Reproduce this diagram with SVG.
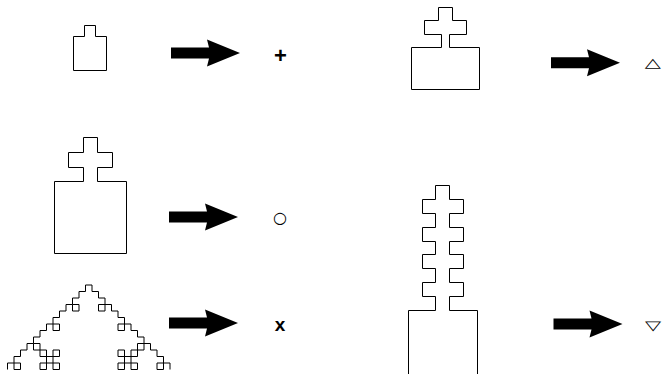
<svg xmlns="http://www.w3.org/2000/svg" xmlns:xlink="http://www.w3.org/1999/xlink" width="663" height="377" viewBox="0 0 663 377">
  <style>
    .shape { fill: none; stroke: #000; stroke-width: 1; }
    .frac { fill: none; stroke: #000; stroke-width: 1; vector-effect: non-scaling-stroke; }
    .arrow { fill: #000; stroke: none; }
    .bold { font-family: "Liberation Sans", Arial, sans-serif; font-weight: bold; font-size: 20px; text-anchor: middle; fill: #000; }
    .sym { font-family: "DejaVu Sans", sans-serif; font-size: 21px; text-anchor: middle; fill: #000; }
  </style>
  <defs>
    <path id="arr" d="M0,-5.5 H38 L36,-13.5 L69,0 L36,13.5 L38,5.5 H0 Z"/>
  </defs>
  <rect width="663" height="377" fill="#fff"/>

  <g id="node-small-tab">
    <path class="shape" d="M73.5,70.5 V36.5 H84.5 V25.5 H95.5 V36.5 H106.5 V70.5 Z"/>
  </g>
  <g id="node-plus">
    <text class="bold" x="280.5" y="63" style="font-size:22px">+</text>
  </g>

  <g id="node-wide-cross">
    <path class="shape" d="M411.5,89.5 V47.5 H441.5 V34.5 H424.5 V20.5 H438.5 V7.5 H452.5 V20.5 H466.5 V34.5 H449.5 V47.5 H479.5 V89.5 Z"/>
  </g>
  <g id="node-triangle-up">
    <text class="sym" transform="translate(652.8,66.5) scale(1,0.62)" x="0" y="0">△</text>
  </g>

  <g id="node-cross">
    <path class="shape" d="M54.5,253.5 V181.5 H83.5 V167.5 H68.5 V152.5 H83.5 V137.5 H97.5 V152.5 H112.5 V167.5 H97.5 V181.5 H126.5 V253.5 Z"/>
  </g>
  <g id="node-circle">
    <text class="sym" x="280" y="223" style="font-size:16px">○</text>
  </g>

  <g id="node-fractal">
    <g transform="translate(7.5,369.5) scale(6.5,-6.5)">
      <path class="frac" d="M0,0V1H1V2H2V3H3V4H4V5H5V6H6V7H7V8H8V9H9V10H10V11H11V12H12V13H13V12H14V11H15V10H16V9H17V8H18V7H19V6H20V5H21V4H22V3H23V2H24V1H25V0"/>
      <path class="frac" d="M1,0h1v1h-1z M4,3h1v1h-1z M7,6h1v1h-1z M10,9h1v1h-1z M14,9h1v1h-1z M17,6h1v1h-1z M20,3h1v1h-1z M23,0h1v1h-1z"/>
      <path class="frac" d="M6,0V3 M7,0V3 M5,1H8 M5,2H8 M5,0H6 M7,0H8 M5,3H6 M7,3H8 M5,0V1 M5,2V3 M8,0V1 M8,2V3"/>
      <path class="frac" d="M18,0V3 M19,0V3 M17,1H20 M17,2H20 M17,0H18 M19,0H20 M17,3H18 M19,3H20 M17,0V1 M17,2V3 M20,0V1 M20,2V3"/>
    </g>
  </g>
  <g id="node-x">
    <text class="bold" x="280" y="330.5" style="font-size:19px">x</text>
  </g>

  <g id="node-tower">
    <path class="shape" d="M408.5,374 V310.5 H435.5 V296.5 H422.5 V282.5 H435.5 V268.5 H422.5 V254.5 H435.5 V241.5 H422.5 V227.5 H435.5 V213.5 H422.5 V199.5 H435.5 V185.5 H449.5 V199.5 H463.5 V213.5 H449.5 V227.5 H463.5 V241.5 H449.5 V254.5 H463.5 V268.5 H449.5 V282.5 H463.5 V296.5 H449.5 V310.5 H477.5 V374"/>
  </g>
  <g id="node-triangle-down">
    <text class="sym" transform="translate(653,329.5) scale(1,0.62)" x="0" y="0">▽</text>
  </g>

  <g id="connectors">
    <use xlink:href="#arr" class="arrow" x="171" y="53"/>
    <use xlink:href="#arr" class="arrow" x="551" y="62.7"/>
    <use xlink:href="#arr" class="arrow" x="169" y="217"/>
    <use xlink:href="#arr" class="arrow" x="169" y="323"/>
    <use xlink:href="#arr" class="arrow" x="553.5" y="324"/>
  </g>
</svg>
